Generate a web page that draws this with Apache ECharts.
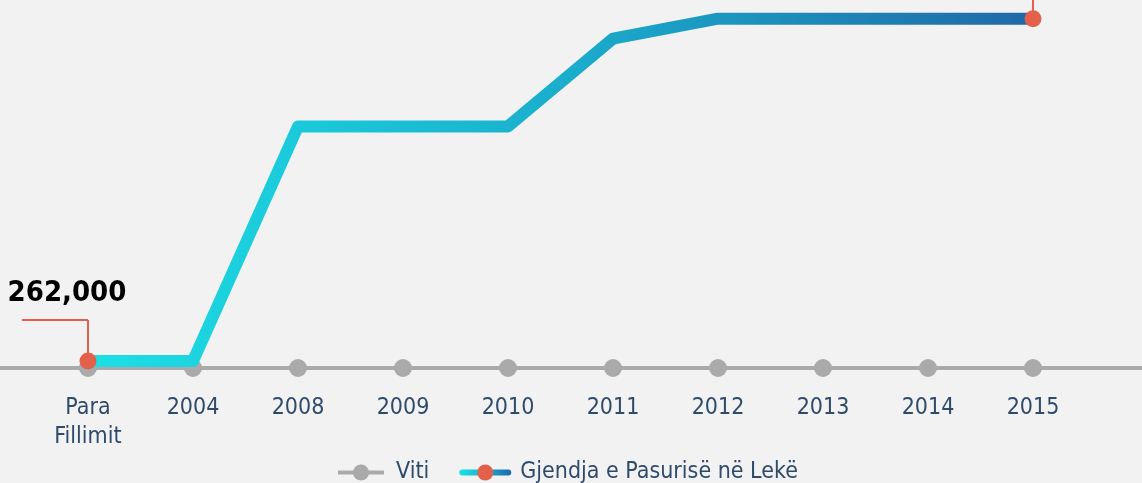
<!DOCTYPE html>
<html>
<head>
<meta charset="utf-8">
<script src="https://cdn.jsdelivr.net/npm/echarts@6/dist/echarts.min.js"></script>
<style>
  html, body { margin: 0; padding: 0; background: #f2f2f2; }
  #chart { width: 1142px; height: 483px; }
</style>
</head>
<body>
<div id="chart"></div>
<script>
// categories (years) and the declared wealth
var categories = ['Para\nFillimit', '2004', '2008', '2009', '2010', '2011', '2012', '2013', '2014', '2015'];
var wealth = [262000, 262000, 9060000, 9060000, 9060000, 12350000, 13100000, 13100000, 13100000, 13100000];
var yearLine = [0, 0, 0, 0, 0, 0, 0, 0, 0, 0];

var font = "'DejaVu Sans Condensed', 'Liberation Sans Narrow', sans-serif";
var textColor = '#2f4b6c';
var orange = '#e3614b';

var myChart = echarts.init(document.getElementById('chart'));

var last = wealth.length - 1;
var wealthData = wealth.map(function (v, i) {
  if (i === 0) {
    return {
      value: [i, v],
      label: {
        show: true,
        position: 'inside',
        offset: [-21, -68],
        formatter: function (p) { return p.value[1].toLocaleString('en-US'); },
        color: '#000',
        fontSize: 29,
        fontWeight: 'bold',
        fontFamily: font
      }
    };
  }
  if (i === last) return { value: [i, v] };
  return { value: [i, v], symbol: 'none' };
});

var yearData = yearLine.map(function (v, i) { return [i, v]; });

var option = {
  backgroundColor: '#f2f2f2',
  animation: false,
  grid: { left: 0, right: 0, top: 0, bottom: 115 },
  legend: {
    left: 331,
    bottom: -6,
    itemWidth: 46,
    itemHeight: 20,
    itemGap: 30,
    textStyle: { color: textColor, fontSize: 23, fontFamily: font, padding: [0, 0, 0, 7] },
    data: [
      { name: 'Viti', lineStyle: { width: 4 } },
      { name: 'Gjendja e Pasurisë në Lekë', lineStyle: { width: 6 } }
    ]
  },
  xAxis: {
    type: 'value',
    min: -0.838,
    max: 10.038,
    axisLine: { show: true, lineStyle: { color: '#aaaaaa', width: 4 } },
    axisTick: { show: false },
    axisLabel: { show: false },
    splitLine: { show: false }
  },
  yAxis: {
    type: 'value',
    min: 0,
    max: 13800000,
    show: false,
    splitLine: { show: false }
  },
  series: [
    {
      name: 'Viti',
      type: 'line',
      z: 1,
      data: yearData,
      symbol: 'circle',
      symbolSize: 18,
      itemStyle: { color: '#aaaaaa' },
      lineStyle: { color: '#aaaaaa', width: 4 },
      label: {
        show: true,
        position: 'bottom',
        distance: 17,
        formatter: function (p) { return categories[p.dataIndex]; },
        color: textColor,
        fontSize: 23,
        lineHeight: 29,
        fontFamily: font
      }
    },
    {
      name: 'Gjendja e Pasurisë në Lekë',
      type: 'line',
      z: 3,
      data: wealthData,
      symbol: 'circle',
      symbolSize: 17,
      itemStyle: { color: orange },
      lineStyle: {
        width: 12,
        join: 'round',
        cap: 'round',
        color: new echarts.graphic.LinearGradient(0, 0, 1, 0, [
          { offset: 0, color: '#1ce0e6' },
          { offset: 0.5, color: '#1aaecc' },
          { offset: 1, color: '#1f68a8' }
        ])
      },
      markLine: {
        silent: true,
        symbol: 'none',
        label: { show: false },
        lineStyle: { color: orange, width: 2, type: 'solid' },
        data: [
          [{ coord: [0, wealth[0]] }, { coord: [0, 1800000] }],
          [{ coord: [0, 1800000] }, { coord: [-0.63, 1800000] }],
          [{ coord: [last, wealth[last]] }, { coord: [last, 13800000] }]
        ]
      }
    }
  ]
};

myChart.setOption(option, true);
window.addEventListener('resize', function () {
  myChart.resize();
});
</script>
</body>
</html>
